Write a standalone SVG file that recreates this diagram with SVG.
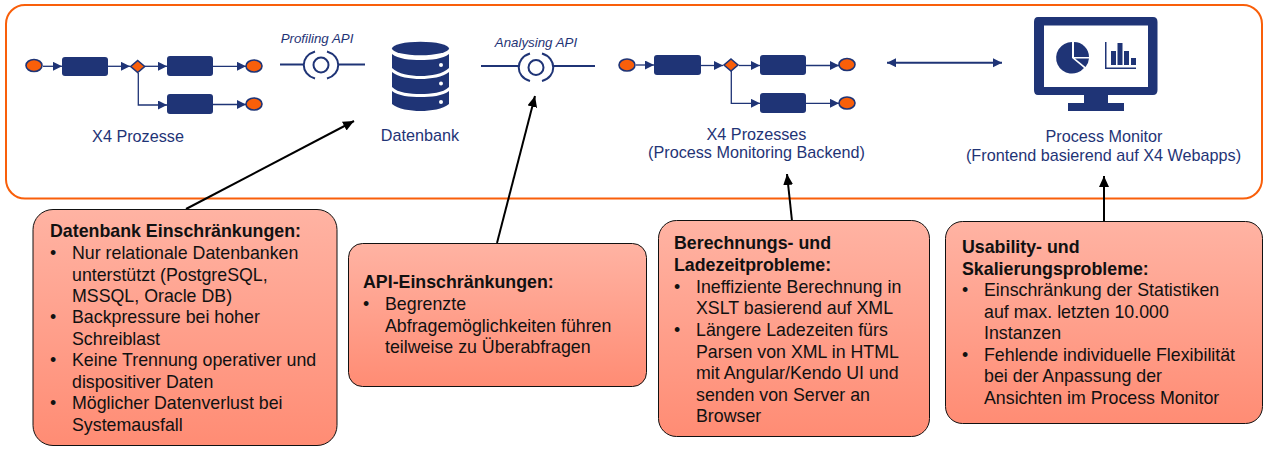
<svg xmlns="http://www.w3.org/2000/svg" width="1267" height="450" viewBox="0 0 1267 450">
<style>
text{font-family:"Liberation Sans",Arial,sans-serif}
.l{font-size:16.2px;fill:#1f3476}
.a{font-size:13.3px;font-style:italic;fill:#1f3476}
.t{font-size:17.8px;fill:#111}
.b{font-size:17.8px;font-weight:bold;fill:#111}
.card{stroke:#111;stroke-width:1;fill:url(#g)}
.seq{fill:none;stroke:#1f3476;stroke-width:1.3}
.api{fill:none;stroke:#1f3476;stroke-width:2}
.ev{fill:#f95f0a;stroke:#1f3476;stroke-width:1.6}
.k{fill:#1f3476}
.blk{stroke:#000;stroke-width:2;fill:none;marker-end:url(#ab)}
</style>
<defs>
<linearGradient id="g" x1="0" y1="0" x2="0" y2="1"><stop offset="0" stop-color="#ffb3a3"/><stop offset="1" stop-color="#ff8c74"/></linearGradient>
<marker id="ab" markerUnits="userSpaceOnUse" markerWidth="12" markerHeight="12" refX="11" refY="5" orient="auto"><path d="M0 0L11 5L0 10Z" fill="#000"/></marker>
<marker id="as" markerUnits="userSpaceOnUse" markerWidth="10" markerHeight="10" refX="9" refY="4.5" orient="auto"><path d="M0 0L9 4.5L0 9Z" fill="#1f3476"/></marker>
<marker id="asr" markerUnits="userSpaceOnUse" markerWidth="10" markerHeight="10" refX="9" refY="4.5" orient="auto-start-reverse"><path d="M0 0L9 4.5L0 9Z" fill="#1f3476"/></marker>
</defs>
<rect id="frame" x="6" y="5" width="1256" height="193.500" rx="19" fill="#fff" stroke="#f95f0a" stroke-width="2"/>

<g id="connectors">
<path class="seq" d="M43 66.300H62" marker-end="url(#as)"/>
<path class="seq" d="M108 66.300H130" marker-end="url(#as)"/>
<path class="seq" d="M145 66.300H167" marker-end="url(#as)"/>
<path class="seq" d="M138.300 73V105H167" marker-end="url(#as)"/>
<path class="seq" d="M213 66.300H246" marker-end="url(#as)"/>
<path class="seq" d="M213 104.500H246" marker-end="url(#as)"/>
<path class="seq" d="M636 65H654" marker-end="url(#as)"/>
<path class="seq" d="M701 65.500H723" marker-end="url(#as)"/>
<path class="seq" d="M739 65.500H760" marker-end="url(#as)"/>
<path class="seq" d="M731.300 71V103.300H760" marker-end="url(#as)"/>
<path class="seq" d="M806 65.500H839" marker-end="url(#as)"/>
<path class="seq" d="M806 103.300H839" marker-end="url(#as)"/>
<path class="api" d="M887 62.700H1002" marker-start="url(#asr)" marker-end="url(#asr)"/>
<path class="api" d="M280 64.500H304M338 64.500H365"/>
<path class="api" d="M481 66H519M553 66H595"/>
<path class="blk" d="M186 209L354 121"/>
<path class="blk" d="M497 243L535 96"/>
<path class="blk" d="M792 221L787 174"/>
<path class="blk" d="M1104 221V176"/>
</g>

<g id="process-left">
<ellipse class="ev" cx="34" cy="65.500" rx="8" ry="6"/>
<rect class="k" x="62" y="57" width="46" height="19" rx="3"/>
<path d="M137.700 60.500L144.700 66.500L137.700 72.500L130.700 66.500Z" class="ev"/>
<rect class="k" x="167" y="56" width="46" height="20" rx="3"/>
<rect class="k" x="167" y="94" width="46" height="20" rx="3"/>
<ellipse class="ev" cx="254" cy="66" rx="8" ry="6"/>
<ellipse class="ev" cx="254" cy="104" rx="8" ry="6"/>
<text class="l" x="138" y="142" text-anchor="middle">X4 Prozesse</text>
</g>

<g id="profiling-api">
<text class="a" x="317" y="43" text-anchor="middle">Profiling API</text>
<circle class="api" cx="321" cy="65" r="7.500"/>
<path class="api" d="M315 51.500C300 56 300 74 315 78.500M327 51.500C342 56 342 74 327 78.500"/>
</g>

<g id="datenbank">
<ellipse class="k" cx="420.500" cy="48.500" rx="28.500" ry="6.700"/>
<path class="k" d="M392 54C398 59 410 60 420.500 60C431 60 443 59 449 54V68C443 74 431 76 420.500 76C410 76 398 74 392 68Z"/>
<path class="k" d="M392 72C398 77 410 79 420.500 79C431 79 443 77 449 72V87C443 93 431 94 420.500 94C410 94 398 93 392 87Z"/>
<path class="k" d="M392 91C398 96 410 97 420.500 97C431 97 443 96 449 91V104C443 109 431 111 420.500 111C410 111 398 109 392 104Z"/>
<circle cx="441" cy="65" r="2" fill="#fff"/>
<circle cx="441" cy="83.500" r="2" fill="#fff"/>
<circle cx="441" cy="102" r="2" fill="#fff"/>
<text class="l" x="420" y="141" text-anchor="middle">Datenbank</text>
</g>

<g id="analysing-api">
<text class="a" x="536" y="47" text-anchor="middle">Analysing API</text>
<circle class="api" cx="536" cy="67.500" r="7.500"/>
<path class="api" d="M530 53.500C515 58 515 77 530 81M542 53.500C557 58 557 77 542 81"/>
</g>

<g id="process-right">
<ellipse class="ev" cx="627" cy="65" rx="8" ry="6"/>
<rect class="k" x="654" y="55" width="47" height="20" rx="3"/>
<path d="M731 59L738 65L731 71L724 65Z" class="ev"/>
<rect class="k" x="760" y="55" width="46" height="20" rx="3"/>
<rect class="k" x="760" y="93" width="46" height="20" rx="3"/>
<ellipse class="ev" cx="847" cy="64.500" rx="8" ry="6"/>
<ellipse class="ev" cx="847" cy="103" rx="8" ry="6"/>
<text class="l" x="756.500" y="140" text-anchor="middle">X4 Prozesses</text>
<text class="l" x="756.500" y="158" text-anchor="middle">(Process Monitoring Backend)</text>
</g>

<g id="process-monitor">
<path class="k" fill-rule="evenodd" d="M1038 17H1153Q1157.500 17 1157.500 22V90Q1157.500 95 1153 95H1108V103H1124V111H1068V103H1084V95H1038Q1034 95 1034 90V22Q1034 17 1038 17ZM1044 25.500V87H1148V25.500Z"/>
<path class="k" d="M1072 42A15.800 15.800 0 1 0 1084 68L1072 58Z"/>
<path class="k" d="M1074 42A15 15 0 0 1 1089 57H1074Z"/>
<path class="k" d="M1075 58.500H1089A15 15 0 0 1 1085.500 67Z"/>
<path class="k" d="M1105 42H1106.500V67.500H1136V69H1105Z"/>
<rect class="k" x="1111" y="51" width="5" height="14"/>
<rect class="k" x="1117.500" y="43" width="5" height="22"/>
<rect class="k" x="1124" y="51" width="5" height="14"/>
<rect class="k" x="1131" y="58" width="5" height="7"/>
<text class="l" x="1104" y="142" text-anchor="middle">Process Monitor</text>
<text class="l" x="1103.500" y="161" text-anchor="middle">(Frontend basierend auf X4 Webapps)</text>
</g>

<g id="card-db">
<rect class="card" x="33" y="209.500" width="304" height="236" rx="20"/>
<text class="b" x="50" y="237">Datenbank Einschränkungen:</text>
<text class="t" x="50" y="259">•</text><text class="t" x="72" y="259">Nur relationale Datenbanken</text>
<text class="t" x="72" y="281">unterstützt (PostgreSQL,</text>
<text class="t" x="72" y="302">MSSQL, Oracle DB)</text>
<text class="t" x="50" y="323">•</text><text class="t" x="72" y="323">Backpressure bei hoher</text>
<text class="t" x="72" y="345">Schreiblast</text>
<text class="t" x="50" y="366">•</text><text class="t" x="72" y="366">Keine Trennung operativer und</text>
<text class="t" x="72" y="388">dispositiver Daten</text>
<text class="t" x="50" y="409">•</text><text class="t" x="72" y="409">Möglicher Datenverlust bei</text>
<text class="t" x="72" y="431">Systemausfall</text>
</g>

<g id="card-api">
<rect class="card" x="348.500" y="243.500" width="298" height="143" rx="14"/>
<text class="b" x="363" y="288">API-Einschränkungen:</text>
<text class="t" x="363" y="310">•</text><text class="t" x="385" y="310">Begrenzte</text>
<text class="t" x="385" y="332">Abfragemöglichkeiten führen</text>
<text class="t" x="385" y="353">teilweise zu Überabfragen</text>
</g>

<g id="card-calc">
<rect class="card" x="658.500" y="220.500" width="271" height="216" rx="18"/>
<text class="b" x="674" y="249">Berechnungs- und</text>
<text class="b" x="674" y="271">Ladezeitprobleme:</text>
<text class="t" x="674" y="293">•</text><text class="t" x="696" y="293">Ineffiziente Berechnung in</text>
<text class="t" x="696" y="314">XSLT basierend auf XML</text>
<text class="t" x="674" y="336">•</text><text class="t" x="696" y="336">Längere Ladezeiten fürs</text>
<text class="t" x="696" y="358">Parsen von XML in HTML</text>
<text class="t" x="696" y="379">mit Angular/Kendo UI und</text>
<text class="t" x="696" y="401">senden von Server an</text>
<text class="t" x="696" y="422">Browser</text>
</g>

<g id="card-usability">
<rect class="card" x="945.500" y="221.500" width="317" height="202" rx="17"/>
<text class="b" x="962" y="253">Usability- und</text>
<text class="b" x="962" y="275">Skalierungsprobleme:</text>
<text class="t" x="962" y="296">•</text><text class="t" x="984" y="296">Einschränkung der Statistiken</text>
<text class="t" x="984" y="318">auf max. letzten 10.000</text>
<text class="t" x="984" y="339">Instanzen</text>
<text class="t" x="962" y="361">•</text><text class="t" x="984" y="361">Fehlende individuelle Flexibilität</text>
<text class="t" x="984" y="382">bei der Anpassung der</text>
<text class="t" x="984" y="404">Ansichten im Process Monitor</text>
</g>
</svg>
